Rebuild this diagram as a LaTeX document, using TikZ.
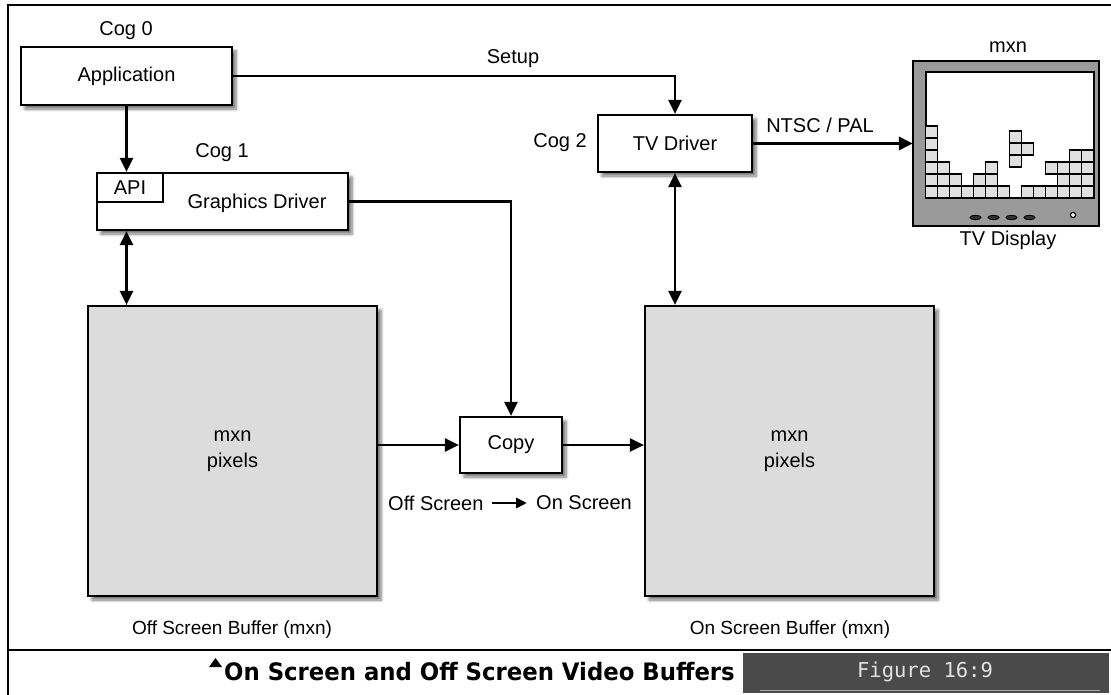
\documentclass[tikz,border=0pt]{standalone}
\usepackage{fontspec}
\setmainfont{Liberation Sans}
\newfontfamily\capfont[FakeStretch=0.95]{DejaVu Sans}
\newfontfamily\figfont{DejaVu Sans Mono}
\usetikzlibrary{arrows.meta,shadows.blur}

\definecolor{bufgray}{HTML}{DCDCDC}
\definecolor{bezel}{HTML}{9A9A9A}
\definecolor{cellgray}{HTML}{E0E0E0}
\definecolor{capdark}{HTML}{4A4A4A}
\definecolor{capfg}{HTML}{E2E2E2}

\begin{document}
\begin{tikzpicture}[x=1pt,y=-1pt,
  lab/.style={font=\fontsize{20}{26}\selectfont, inner sep=0pt, align=center},
  smalllab/.style={font=\fontsize{19}{24}\selectfont, inner sep=0pt},
  shade box/.style={blur shadow={shadow xshift=4pt, shadow yshift=-4pt,
      shadow blur radius=3pt, shadow blur steps=6, shadow opacity=55}},
  blockbox/.style={draw, line width=2.2pt, fill=white, shade box, lab},
  bufbox/.style={draw, line width=2.2pt, fill=bufgray, shade box, lab},
  tip/.style={-{Triangle[length=14pt,width=13pt]}},
  conn/.style={line width=2.4pt, tip},
  dconn/.style={line width=2.4pt, {Triangle[length=14pt,width=13pt]}-{Triangle[length=14pt,width=13pt]}},
  cell/.style={fill=cellgray, draw, line width=1.1pt}
]
\useasboundingbox (0,0) rectangle (1111,695);

% page frame and caption strip
\draw[line width=2pt] (1111,5) -- (8,5) -- (8,695);
\draw[line width=2pt] (8,650) -- (1111,650);
\fill[capdark] (743,653) rectangle (1109,693);
\draw[gray!70, line width=0.8pt] (760,690) -- (1100,690);
\node[font=\capfont\bfseries\fontsize{24}{28}\selectfont, anchor=east, inner sep=0pt] (caption) at (735,672) {On Screen and Off Screen Video Buffers};
\fill ([xshift=-15pt,yshift=5pt]caption.west) -- ++(6.5,-9) -- ++(6.5,9) -- cycle;
\node[font=\figfont\fontsize{20.5}{24}\selectfont, text=capfg, inner sep=0pt] (figlabel) at (925,672) {Figure 16:9};

% processing blocks
\node[blockbox, minimum width=211pt, minimum height=58pt] (app) at (126.5,76) {Application};
\node[lab] (cog0) at (126,31) {Cog 0};

\node[blockbox, minimum width=251pt, minimum height=57pt] (gd) at (222.5,201.5) {};
\node[draw, line width=2.2pt, anchor=north west, minimum width=66pt, minimum height=29pt, inner sep=0pt] (api) at (gd.north west) {};
\node[lab] (apitext) at (api.center) {API};
\node[lab] (gdtext) at (257,203) {Graphics Driver};
\node[lab] (cog1) at (222,153) {Cog 1};

\node[blockbox, minimum width=154pt, minimum height=57pt] (tvd) at (675,143.5) {TV Driver};
\node[lab] (cog2) at (560,143) {Cog 2};

\node[blockbox, minimum width=102pt, minimum height=56pt] (copy) at (511,445) {Copy};

% frame buffers
\node[bufbox, minimum width=289pt, minimum height=290pt] (offbuf) at (232.5,451) {mxn\\pixels};
\node[bufbox, minimum width=289pt, minimum height=290pt] (onbuf) at (789.5,451) {mxn\\pixels};
\node[smalllab] (offcap) at (232,630) {Off Screen Buffer (mxn)};
\node[smalllab] (oncap) at (790,630) {On Screen Buffer (mxn)};

% copy direction legend
\node[lab, anchor=west] (offlbl) at (388,503) {Off Screen};
\node[lab, anchor=east] (onlbl) at (632,503) {On Screen};
\draw[line width=2.8pt, -{Triangle[length=11pt,width=10pt]}] ([xshift=8pt]offlbl.east) -- ([xshift=-9pt]onlbl.west);

% TV display
\coordinate (tvnw) at (913,61);
\coordinate (tvse) at (1099,226);
\draw[fill=bezel, line width=2.2pt] (tvnw) rectangle (tvse);
\draw[fill=white, line width=2pt] (925.7,72) rectangle (1093.7,198);
\foreach \c/\r in {0/0,0/1,0/2,0/3,0/4,0/5,1/0,1/1,1/2,2/0,2/1,3/0,4/0,4/1,5/0,5/1,5/2,6/0,
                   8/0,9/0,10/0,10/2,11/0,11/1,11/2,12/0,12/1,12/2,12/3,13/0,13/1,13/2,13/3}
  \draw[cell] (925.7+12*\c,198-12*\r) rectangle ++(12,-12);
\foreach \yy in {131,143,155}
  \draw[cell] (1009.7,\yy) rectangle ++(12,12);
\draw[cell] (1021.7,143) rectangle ++(12,12);
\draw[line width=2pt] (925.7,198) -- (1093.7,198);
\foreach \bx in {975.5,993.5,1011.5,1029.5}
  \draw[fill=black!80, line width=0.9pt] (\bx,217.5) ellipse [x radius=5.5pt, y radius=2.2pt];
\draw[fill=white, line width=1.2pt] (1073,215) circle [radius=2.6pt];
\node[lab] (tv) at (1006,143.5) [minimum width=186pt, minimum height=165pt] {};
\node[lab] (tvtop) at (1008,47) {mxn};
\node[lab] (tvcap) at (1008,240) {TV Display};

% connectors
\draw[conn] (app.south) -- (app.south |- gd.north);
\draw[dconn] (app.south |- gd.south) -- (app.south |- offbuf.north);
\draw[conn] (gd.east) -| (copy.north);
\draw[conn] (copy.west -| offbuf.east) -- (copy.west);
\draw[conn] (copy.east) -- (copy.east -| onbuf.west);
\draw[conn] (app.east) -| (tvd.north);
\node[lab] (setup) at (513,59) {Setup};
\draw[dconn] (tvd.south) -- (tvd.south |- onbuf.north);
\draw[line width=3.4pt, tip] (tvd.east) -- (tvd.east -| tv.west);
\node[lab] (ntsc) at (820,125) {NTSC / PAL};
\end{tikzpicture}
\end{document}
